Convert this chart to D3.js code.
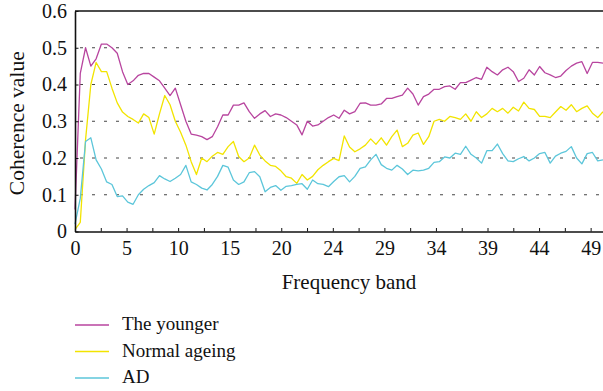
<!DOCTYPE html>
<html lang="en">
<head>
    <meta charset="UTF-8">
    <title>Coherence value</title>
    <script src="https://cdn.jsdelivr.net/npm/d3@7"></script>
    <style>
        body { margin: 0; background: #fff; }
    </style>
</head>
<body>
<div id="chart"></div>
<script>
    var FONT = "\"Liberation Serif\"";

    // frequency grid (Hz), one value every 0.5 Hz
    var freq = d3.range(101).map(function (i) { return i * 0.5; });

    var younger = [
        0.06, 0.43, 0.50, 0.45, 0.47, 0.51, 0.51, 0.50, 0.485, 0.435,
        0.40, 0.41, 0.425, 0.43, 0.43, 0.42, 0.41, 0.39, 0.37, 0.39,
        0.345, 0.30, 0.265, 0.262, 0.258, 0.25, 0.258, 0.285, 0.317, 0.317,
        0.344, 0.344, 0.35, 0.326, 0.308, 0.32, 0.329, 0.313, 0.32, 0.317,
        0.31, 0.30, 0.29, 0.263, 0.30, 0.287, 0.29, 0.30, 0.31, 0.317,
        0.308, 0.33, 0.32, 0.326, 0.349, 0.35, 0.344, 0.344, 0.347, 0.362,
        0.362, 0.367, 0.371, 0.39, 0.374, 0.344, 0.367, 0.374, 0.387, 0.387,
        0.394, 0.396, 0.387, 0.405, 0.405, 0.412, 0.419, 0.414, 0.447, 0.435,
        0.426, 0.44, 0.447, 0.435, 0.408, 0.417, 0.44, 0.426, 0.449, 0.432,
        0.426, 0.419, 0.423, 0.438, 0.45, 0.458, 0.462, 0.43, 0.46, 0.46, 0.458
    ];
    var normal = [
        0.005, 0.025, 0.25, 0.40, 0.46, 0.435, 0.435, 0.39, 0.35, 0.325,
        0.313, 0.305, 0.295, 0.32, 0.31, 0.265, 0.32, 0.37, 0.345, 0.30,
        0.27, 0.235, 0.19, 0.155, 0.20, 0.19, 0.205, 0.215, 0.21, 0.231,
        0.245, 0.204, 0.19, 0.20, 0.235, 0.208, 0.192, 0.18, 0.177, 0.165,
        0.149, 0.145, 0.131, 0.155, 0.14, 0.15, 0.168, 0.18, 0.19, 0.199,
        0.193, 0.26, 0.23, 0.217, 0.225, 0.235, 0.252, 0.237, 0.255, 0.235,
        0.258, 0.276, 0.231, 0.24, 0.262, 0.268, 0.237, 0.258, 0.30, 0.305,
        0.30, 0.313, 0.31, 0.305, 0.32, 0.30, 0.326, 0.31, 0.32, 0.335,
        0.326, 0.335, 0.322, 0.338, 0.328, 0.352, 0.335, 0.332, 0.313, 0.313,
        0.31, 0.325, 0.34, 0.33, 0.345, 0.326, 0.335, 0.342, 0.322, 0.31, 0.326
    ];
    var ad = [
        0.02, 0.09, 0.245, 0.255, 0.195, 0.17, 0.135, 0.128, 0.095, 0.097,
        0.08, 0.074, 0.10, 0.115, 0.125, 0.133, 0.152, 0.143, 0.136, 0.145,
        0.155, 0.18, 0.135, 0.128, 0.118, 0.113, 0.128, 0.15, 0.18, 0.175,
        0.14, 0.128, 0.135, 0.16, 0.163, 0.149, 0.108, 0.12, 0.125, 0.112,
        0.123, 0.125, 0.128, 0.13, 0.115, 0.14, 0.13, 0.128, 0.122, 0.136,
        0.149, 0.152, 0.135, 0.15, 0.172, 0.176, 0.195, 0.21, 0.182, 0.172,
        0.167, 0.18, 0.17, 0.155, 0.167, 0.165, 0.167, 0.172, 0.188, 0.19,
        0.203, 0.2, 0.213, 0.21, 0.232, 0.21, 0.2, 0.186, 0.22, 0.22,
        0.238, 0.212, 0.192, 0.19, 0.198, 0.204, 0.192, 0.2, 0.212, 0.215,
        0.186, 0.205, 0.213, 0.218, 0.231, 0.2, 0.184, 0.212, 0.215, 0.192, 0.195
    ];

    var seriesNames = ["The younger", "Normal ageing", "AD"];
    var seriesColors = ["#b8459f", "#f2e400", "#5cc6da"];
    var seriesValues = [younger, normal, ad];

    // x ticks sit every 25 bins of a 256-bin spectrum (50/256 Hz per bin), minor ones in between
    var xTickBins = d3.range(0, 21).map(function (k) { return k * 12.5; });
    var yTicks = [0, 0.1, 0.2, 0.3, 0.4, 0.5, 0.6];

    var width = 603, height = 391;
    var margin = {top: 11, right: 0, bottom: 159.5, left: 75};
    var innerW = width - margin.left - margin.right;
    var innerH = height - margin.top - margin.bottom;

    var svg = d3.select("#chart").append("svg")
        .attr("width", width)
        .attr("height", height);

    var g = svg.append("g")
        .attr("transform", "translate(" + margin.left + "," + margin.top + ")");

    var x = d3.scaleLinear().domain([0, 50]).range([0, innerW]);
    var y = d3.scaleLinear().domain([0, 0.6]).range([innerH, 0]);

    // dotted grid
    g.append("g")
        .selectAll("line")
        .data(yTicks.slice(1, 6))
        .enter()
        .append("line")
        .attr("x1", 0)
        .attr("x2", innerW)
        .attr("y1", function (d) { return y(d); })
        .attr("y2", function (d) { return y(d); })
        .attr("stroke", "#444")
        .attr("stroke-width", 1)
        .attr("stroke-dasharray", "3,9")
        .attr("stroke-dashoffset", -5);

    // top frame line
    g.append("line")
        .attr("x1", 0).attr("x2", innerW)
        .attr("y1", y(0.6)).attr("y2", y(0.6))
        .attr("stroke", "#111")
        .attr("stroke-width", 1.6);

    // series
    var line = d3.line()
        .x(function (d, i) { return x(freq[i]); })
        .y(function (d) { return y(d); });

    seriesValues.forEach(function (vals, k) {
        g.append("path")
            .datum(vals)
            .attr("fill", "none")
            .attr("stroke", seriesColors[k])
            .attr("stroke-width", 1.3)
            .attr("stroke-linejoin", "round")
            .attr("d", line);
    });

    // axes
    var xAxis = d3.axisBottom(x)
        .tickValues(xTickBins.map(function (b) { return b * 50 / 256; }))
        .tickFormat(function (d, i) { return i % 2 === 0 ? Math.round(d) : ""; })
        .tickSizeInner(-3.5)
        .tickSizeOuter(0)
        .tickPadding(9);

    var gx = g.append("g")
        .attr("transform", "translate(0," + innerH + ")")
        .call(xAxis)
        .attr("font-family", null);
    gx.select(".domain").attr("stroke", "#111").attr("stroke-width", 1.6);
    gx.selectAll(".tick line").attr("stroke", "#111").attr("stroke-width", 1);
    gx.selectAll("text").attr("font-size", 20).attr("fill", "#111").style("font-family", FONT);

    var yAxis = d3.axisLeft(y)
        .tickValues(yTicks)
        .tickFormat(function (d) { return d === 0 ? "0" : d3.format(".1f")(d); })
        .tickSizeInner(-3.5)
        .tickSizeOuter(0)
        .tickPadding(8);

    var gy = g.append("g").call(yAxis).attr("font-family", null);
    gy.select(".domain").attr("stroke", "#111").attr("stroke-width", 1.6);
    gy.selectAll(".tick line").attr("stroke", "#111").attr("stroke-width", 1);
    gy.selectAll("text").attr("font-size", 20).attr("fill", "#111").style("font-family", FONT);

    // axis titles
    svg.append("text")
        .attr("x", 349)
        .attr("y", 289)
        .attr("text-anchor", "middle")
        .attr("font-size", 21)
        .attr("fill", "#111")
        .style("font-family", FONT)
        .text("Frequency band");

    svg.append("text")
        .attr("transform", "translate(24," + (margin.top + innerH / 2 + 2) + ") rotate(-90)")
        .attr("text-anchor", "middle")
        .attr("font-size", 21.5)
        .attr("fill", "#111")
        .style("font-family", FONT)
        .text("Coherence value");

    // legend
    var legend = svg.append("g")
        .selectAll("g")
        .data(seriesNames)
        .enter()
        .append("g")
        .attr("transform", function (d, i) { return "translate(75," + (325 + i * 26.5) + ")"; });

    legend.append("line")
        .attr("x1", 0).attr("x2", 34)
        .attr("stroke", function (d, i) { return seriesColors[i]; })
        .attr("stroke-width", 1.6);

    legend.append("text")
        .attr("x", 47)
        .attr("y", 5)
        .attr("font-size", 19)
        .attr("fill", "#111")
        .style("font-family", FONT)
        .text(function (d) { return d; });
</script>
</body>
</html>
